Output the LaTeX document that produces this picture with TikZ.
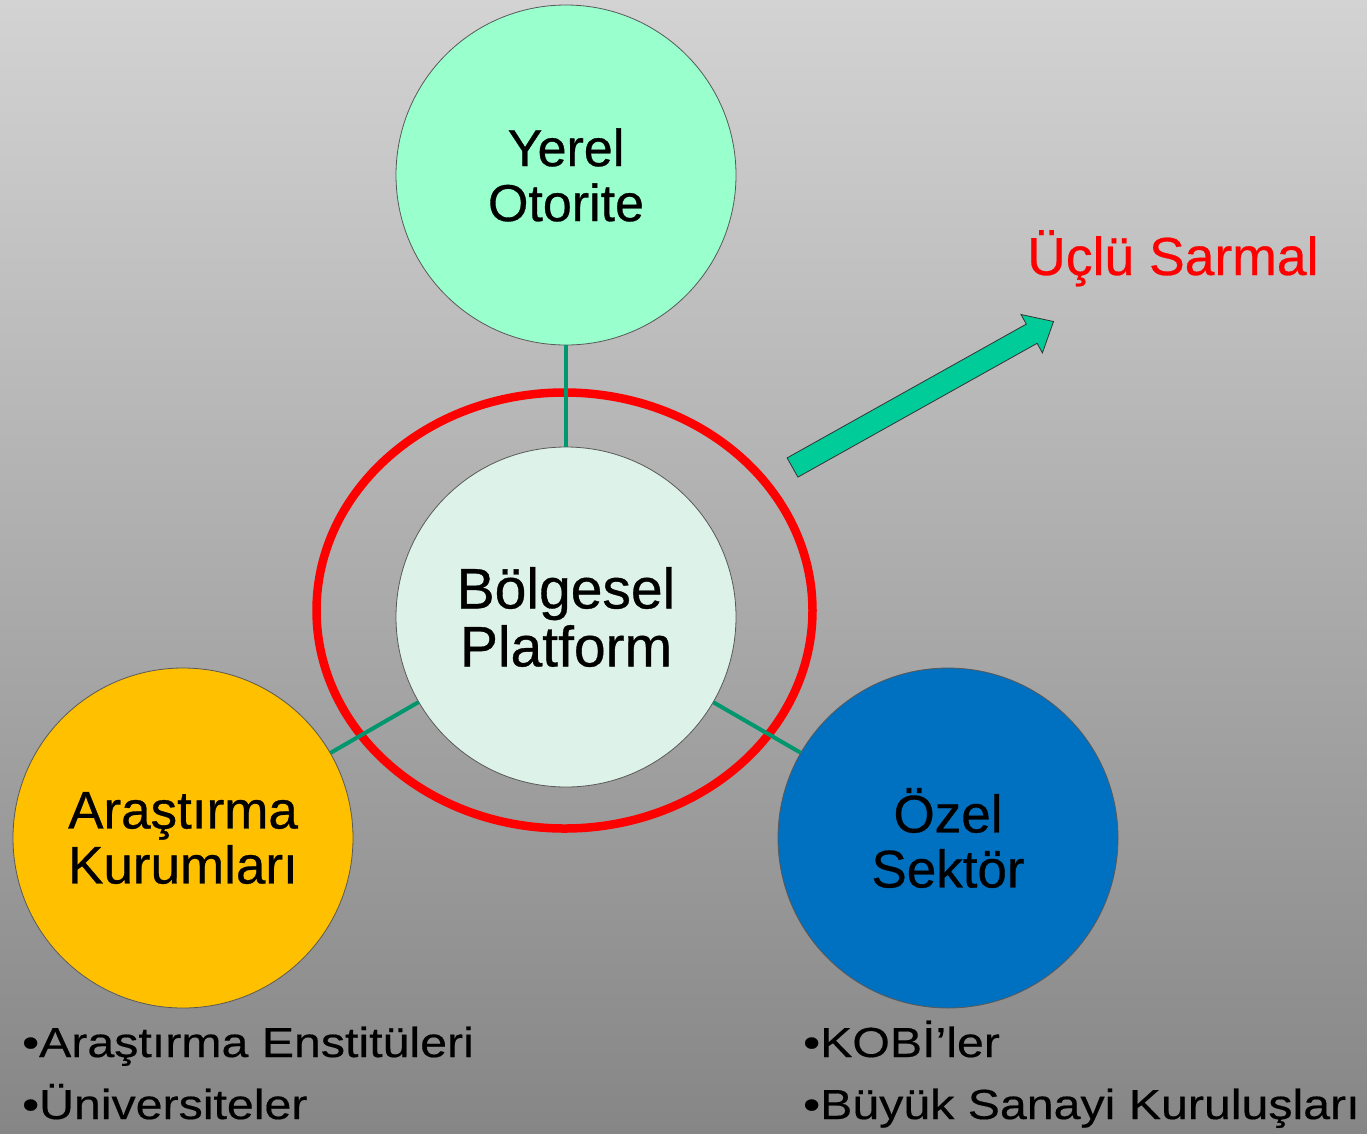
\documentclass[tikz,border=0pt]{standalone}
\usepackage{fontspec}
\setmainfont{Liberation Sans}[FakeBold=0.5]
\newfontfamily\heavyfont[FakeBold=0.6]{Liberation Sans}
\newfontfamily\widefont[FakeStretch=1.15,FakeBold=0.4]{Liberation Sans}
\usetikzlibrary{shapes.geometric}
\definecolor{bgtop}{RGB}{211,211,211}
\definecolor{bgbot}{RGB}{134,134,134}
\definecolor{yerelc}{RGB}{153,255,204}
\definecolor{centerc}{RGB}{221,242,232}
\definecolor{arasc}{RGB}{255,192,0}
\definecolor{ozelc}{RGB}{0,112,192}
\definecolor{connc}{RGB}{0,150,110}
\definecolor{arrowc}{RGB}{0,204,153}
\definecolor{ringc}{RGB}{255,0,0}
\tikzset{
  circ/.style={circle, minimum size=340pt, inner sep=0pt, draw=black!65, line width=0.8pt,
    align=center, text=black, font=\heavyfont\fontsize{52}{55}\selectfont},
  conn/.style={draw=connc, line width=4pt},
  bul/.style={anchor=base west, inner sep=0pt, text=black, font=\widefont\fontsize{42}{46}\selectfont},
}
\begin{document}
\begin{tikzpicture}[x=1pt,y=-1pt]
\useasboundingbox (0,0) rectangle (1367,1133);
\shade[top color=bgtop,bottom color=bgbot] (0,0) rectangle (1367,1133);

\node[ellipse, draw=ringc, line width=8.5pt, minimum width=496pt, minimum height=436pt, inner sep=0pt] (ring) at (564.5,610.5) {};

\node[circ, fill=yerelc] (yerel) at (566,175) {Yerel\\Otorite};
\node[circ, fill=centerc, font=\heavyfont\fontsize{57}{58}\selectfont] (center) at (566,617) {Bölgesel\\Platform};
\node[circ, fill=arasc, font=\heavyfont\fontsize{53}{55}\selectfont] (aras) at (183,838) {Araştırma\\Kurumları};
\node[circ, fill=ozelc, font=\heavyfont\fontsize{53}{55}\selectfont] (ozel) at (948,838) {Özel\\Sektör};

\draw[conn] (yerel) -- (center);
\draw[conn] (aras) -- (center);
\draw[conn] (ozel) -- (center);

\draw[fill=arrowc, draw=black!80, line width=0.8pt]
  (797.9,477.1) -- (787.1,457.9) -- (1026.3,324.1) -- (1021.0,314.5)
  -- (1053.5,321.5) -- (1042.4,352.9) -- (1037.1,343.3) -- cycle;

\node[anchor=base west, inner sep=0pt, text=ringc, font=\fontsize{53.5}{55}\selectfont] (ucl) at (1027,275) {Üçlü Sarmal};

\node[bul] (b1) at (22,1057) {\textbullet Araştırma Enstitüleri};
\node[bul] (b2) at (22,1119) {\textbullet Üniversiteler};
\node[bul] (b3) at (803,1057) {\textbullet KOBİ’ler};
\node[bul] (b4) at (803,1119) {\textbullet Büyük Sanayi Kuruluşları};
\end{tikzpicture}
\end{document}
